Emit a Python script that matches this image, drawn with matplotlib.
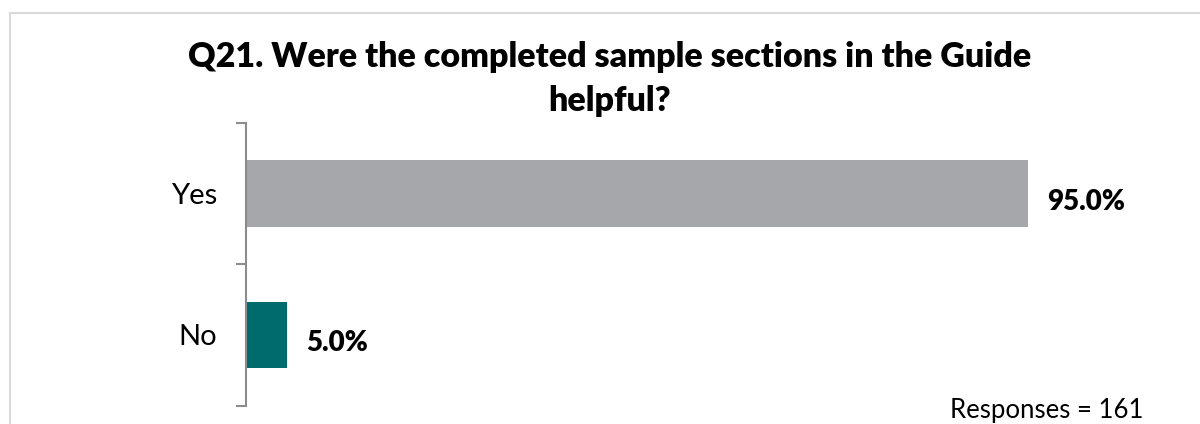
import matplotlib
matplotlib.use("Agg")
import matplotlib.pyplot as plt
from matplotlib.patches import Rectangle
from matplotlib.ticker import FixedLocator

plt.rcParams["font.family"] = ["Lato", "DejaVu Sans"]

categories = ["Yes", "No"]
percentages = [95.0, 5.0]
bar_colors = ["#A6A7AB", "#006B6D"]
title_lines = ["Q21. Were the completed sample sections in the Guide", "helpful?"]
footnote = "Responses = 161"

W, H = 1200, 424
fig = plt.figure(figsize=(W / 100, H / 100), dpi=100)

# light frame round the chart
fig.patches.append(Rectangle((10 / W, -0.1), 1.2, (H - 13) / H + 0.1,
                             transform=fig.transFigure, fill=False,
                             edgecolor="#D9D9D9", linewidth=1.5))

ax = fig.add_axes([246 / W, 0.0434, 823 / W, 0.6672])

y = list(range(len(categories)))
ax.barh(y, percentages, height=0.47, color=bar_colors)
ax.set_xlim(0, 100)
ax.set_ylim(-0.5, len(categories) - 0.5)
ax.invert_yaxis()

for pos, val in zip(y, percentages):
    ax.annotate(f"{val:.1f}%", xy=(val, pos), xytext=(14, -6),
                textcoords="offset points", ha="left", va="center",
                fontsize=20, fontweight="heavy", color="#000000")

for side in ["top", "right", "bottom"]:
    ax.spines[side].set_visible(False)
ax.spines["left"].set_color("#8C8C8C")
ax.spines["left"].set_linewidth(1.5)
ax.xaxis.set_visible(False)

# category labels in the middle, tick marks on the boundaries
ax.set_yticks(y)
ax.set_yticklabels(categories, fontsize=21)
ax.tick_params(axis="y", which="major", length=0, pad=21)
ax.yaxis.set_minor_locator(FixedLocator([-0.5, 0.5, 1.5]))
ax.tick_params(axis="y", which="minor", length=7, width=1.5, color="#8C8C8C")

for line, base in zip(title_lines, [67, 111]):
    fig.text(0.508, (H - base) / H, line, ha="center", va="baseline",
             fontsize=24.5, fontweight="heavy")
fig.text(950 / W, (H - 418) / H, footnote, ha="left", va="baseline",
         fontsize=18.5)

fig.savefig("out.png", dpi=100)
